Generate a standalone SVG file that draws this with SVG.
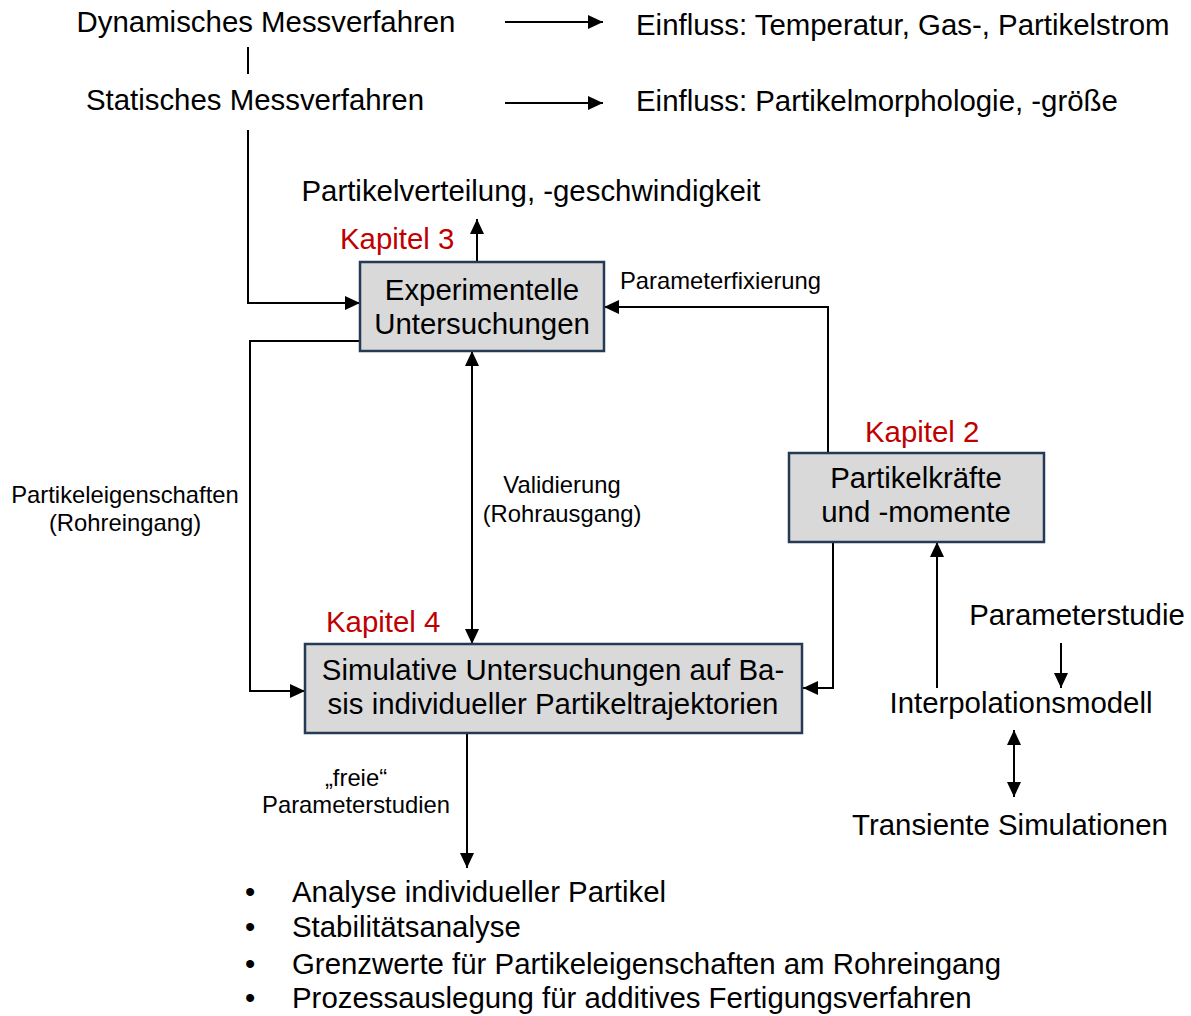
<svg xmlns="http://www.w3.org/2000/svg" width="1191" height="1016" viewBox="0 0 1191 1016">
<defs>
<marker id="ah" markerUnits="userSpaceOnUse" markerWidth="16" markerHeight="14" refX="15" refY="7" orient="auto-start-reverse">
<path d="M0,0 L15,7 L0,14 Z" fill="#000"/>
</marker>
<style>
text{font-family:"Liberation Sans",Arial,sans-serif;fill:#000}
.m{font-size:29.4px}
.s{font-size:23.8px}
.r{font-size:29.4px;fill:#C00000}
.box{fill:#D9D9D9;stroke:#243A56;stroke-width:2.5}
.c{fill:none;stroke:#000;stroke-width:2}
.a{marker-end:url(#ah)}
.d{marker-start:url(#ah);marker-end:url(#ah)}
</style>
</defs>
<rect width="1191" height="1016" fill="#fff"/>
<g id="connectors">
<line class="c" x1="248" y1="47" x2="248" y2="74"/>
<line class="c a" x1="505" y1="22" x2="603" y2="22"/>
<line class="c a" x1="505" y1="103" x2="603" y2="103"/>
<polyline class="c a" points="248,130 248,303 360,303"/>
<line class="c a" x1="477" y1="262" x2="477" y2="219"/>
<polyline class="c a" points="828,453 828,307 604,307"/>
<polyline class="c a" points="833,542 833,688 803,688"/>
<line class="c a" x1="937" y1="688" x2="937" y2="542"/>
<line class="c a" x1="1061" y1="643" x2="1061" y2="688"/>
<line class="c d" x1="1014" y1="730" x2="1014" y2="797"/>
<line class="c d" x1="472" y1="351" x2="472" y2="644"/>
<polyline class="c a" points="360,341 250,341 250,691 305,691"/>
<line class="c a" x1="467" y1="733" x2="467" y2="868"/>
</g>
<g id="top-labels">
<text class="m" x="266" y="32" text-anchor="middle">Dynamisches Messverfahren</text>
<text class="m" x="255" y="110" text-anchor="middle">Statisches Messverfahren</text>
<text class="m" x="636" y="35">Einfluss: Temperatur, Gas-, Partikelstrom</text>
<text class="m" x="636" y="111">Einfluss: Partikelmorphologie, -größe</text>
<text class="m" x="531" y="201" text-anchor="middle">Partikelverteilung, -geschwindigkeit</text>
</g>
<g id="node-experimentell">
<rect class="box" x="360" y="262" width="244" height="89"/>
<text class="m" x="482" y="300" text-anchor="middle">Experimentelle</text>
<text class="m" x="482" y="334" text-anchor="middle">Untersuchungen</text>
<text class="r" x="340" y="249">Kapitel 3</text>
</g>
<g id="node-kraefte">
<rect class="box" x="789" y="453" width="255" height="89"/>
<text class="m" x="916" y="488" text-anchor="middle">Partikelkräfte</text>
<text class="m" x="916" y="522" text-anchor="middle">und -momente</text>
<text class="r" x="865" y="442">Kapitel 2</text>
</g>
<g id="node-simulativ">
<rect class="box" x="305" y="644" width="497" height="89"/>
<text class="m" x="553" y="680" text-anchor="middle">Simulative Untersuchungen auf Ba-</text>
<text class="m" x="553" y="714" text-anchor="middle">sis individueller Partikeltrajektorien</text>
<text class="r" x="326" y="632">Kapitel 4</text>
</g>
<g id="edge-labels">
<text class="s" x="620" y="289">Parameterfixierung</text>
<text class="s" x="562" y="493" text-anchor="middle">Validierung</text>
<text class="s" x="562" y="522" text-anchor="middle">(Rohrausgang)</text>
<text class="s" x="125" y="503" text-anchor="middle">Partikeleigenschaften</text>
<text class="s" x="125" y="531" text-anchor="middle">(Rohreingang)</text>
<text class="s" x="356" y="786" text-anchor="middle">„freie“</text>
<text class="s" x="356" y="813" text-anchor="middle">Parameterstudien</text>
</g>
<g id="model-labels">
<text class="m" x="1077" y="625" text-anchor="middle">Parameterstudie</text>
<text class="m" x="1021" y="713" text-anchor="middle">Interpolationsmodell</text>
<text class="m" x="1010" y="835" text-anchor="middle">Transiente Simulationen</text>
</g>
<g id="bullets">
<text class="m" x="245" y="902">•</text><text class="m" x="292" y="902">Analyse individueller Partikel</text>
<text class="m" x="245" y="937">•</text><text class="m" x="292" y="937">Stabilitätsanalyse</text>
<text class="m" x="245" y="974">•</text><text class="m" x="292" y="974">Grenzwerte für Partikeleigenschaften am Rohreingang</text>
<text class="m" x="245" y="1008">•</text><text class="m" x="292" y="1008">Prozessauslegung für additives Fertigungsverfahren</text>
</g>
</svg>
